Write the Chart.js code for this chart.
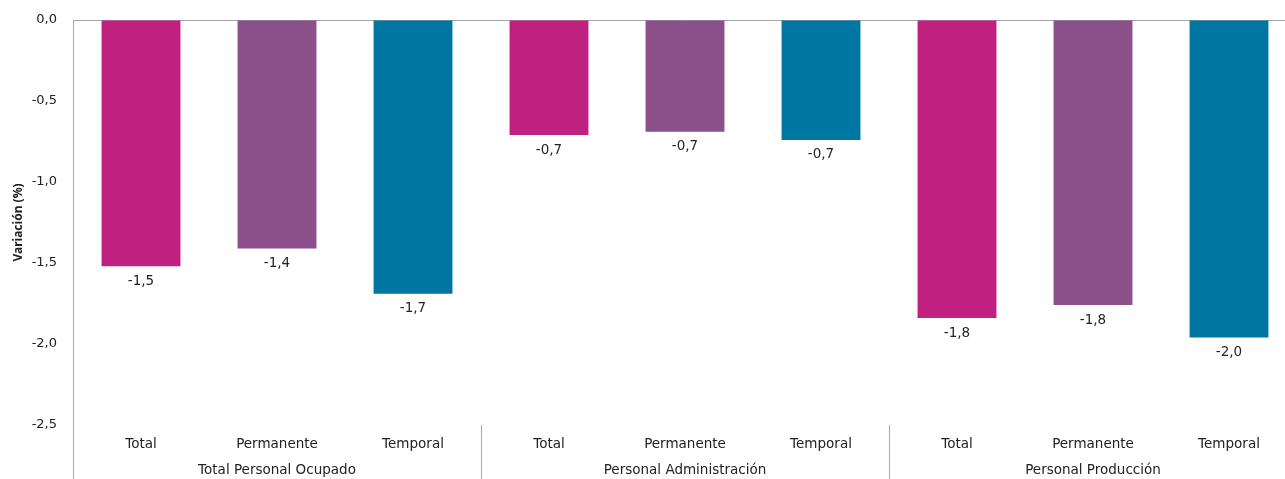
<!DOCTYPE html>
<html>
<head>
<meta charset="utf-8">
<script src="https://cdn.jsdelivr.net/npm/chart.js@4.4.1/dist/chart.umd.min.js"></script>
<style>
  html, body { margin: 0; padding: 0; background: #fff; overflow: hidden; }
  #wrap { width: 1297px; height: 479px; position: relative; }
</style>
</head>
<body>
<div id="wrap"><canvas id="grafico"></canvas></div>
<script>
// --- DATOS ---
const categorias = ['Total', 'Permanente', 'Temporal', 'Total', 'Permanente', 'Temporal', 'Total', 'Permanente', 'Temporal'];
const grupos = ['Total Personal Ocupado', 'Personal Administración', 'Personal Producción'];
const variacion = [-1.52, -1.41, -1.69, -0.71, -0.69, -0.74, -1.84, -1.76, -1.96];
const etiquetas = ['-1,5', '-1,4', '-1,7', '-0,7', '-0,7', '-0,7', '-1,8', '-1,8', '-2,0'];
const colores = ['#C0207F', '#8B4F8B', '#0077A3', '#C0207F', '#8B4F8B', '#0077A3', '#C0207F', '#8B4F8B', '#0077A3'];
const yTicks = [0, -0.5, -1, -1.5, -2, -2.5];

const FONT = "'DejaVu Sans', Verdana, sans-serif";
const GRIS = '#A6A6A6';

// Plugin: etiquetas de valor, grupos y separadores
const extras = {
    id: 'extras',
    afterDatasetsDraw(chart) {
        const ctx = chart.ctx;
        const meta = chart.getDatasetMeta(0);
        ctx.save();
        ctx.font = '13.5px ' + FONT;
        ctx.fillStyle = '#222';
        ctx.textAlign = 'center';
        ctx.textBaseline = 'middle';
        meta.data.forEach((bar, i) => {
            ctx.fillText(etiquetas[i], bar.x, bar.y + 15);
        });
        ctx.restore();
    },
    afterDraw(chart) {
        const ctx = chart.ctx;
        const x = chart.scales.x;
        const area = chart.chartArea;
        const bottom = chart.height;
        ctx.save();
        ctx.strokeStyle = GRIS;
        ctx.lineWidth = 1;
        // eje vertical hasta abajo
        ctx.beginPath();
        ctx.moveTo(Math.round(area.left) + 0.5, area.top);
        ctx.lineTo(Math.round(area.left) + 0.5, bottom);
        ctx.stroke();
        const ancho = (area.right - area.left) / categorias.length;
        for (let g = 1; g <= grupos.length; g++) {
            const sx = Math.round(area.left + ancho * 3 * g) + 0.5;
            ctx.beginPath();
            ctx.moveTo(sx, area.bottom);
            ctx.lineTo(sx, bottom);
            ctx.stroke();
        }
        ctx.font = '13.5px ' + FONT;
        ctx.fillStyle = '#222';
        ctx.textAlign = 'center';
        ctx.textBaseline = 'middle';
        grupos.forEach((g, i) => {
            const cx = x.getPixelForValue(i * 3 + 1);
            ctx.fillText(g, cx, 470);
        });
        ctx.restore();
    }
};

new Chart(document.getElementById('grafico'), {
    type: 'bar',
    data: {
        labels: categorias,
        datasets: [{
            data: variacion,
            backgroundColor: colores,
            borderWidth: 0,
            categoryPercentage: 1,
            barPercentage: 0.58
        }]
    },
    options: {
        responsive: true,
        maintainAspectRatio: false,
        animation: false,
        layout: { padding: { top: 20, right: 0, bottom: 0, left: 0 } },
        plugins: {
            legend: { display: false },
            tooltip: { enabled: false }
        },
        scales: {
            x: {
                grid: { display: false, drawTicks: false },
                border: { display: false },
                ticks: {
                    color: '#222',
                    font: { family: FONT, size: 13.5 },
                    padding: 11,
                    maxRotation: 0,
                    autoSkip: false
                },
                afterFit(scale) {
                    scale.height = 54;
                    scale.paddingLeft = 0;
                    scale.paddingRight = 0;
                }
            },
            y: {
                min: -2.5,
                max: 0,
                afterBuildTicks(scale) { scale.ticks = yTicks.map(v => ({ value: v })); },
                grid: {
                    drawTicks: false,
                    color: ctx => (ctx.tick && ctx.tick.value === 0) ? GRIS : 'rgba(0,0,0,0)'
                },
                border: { display: true, color: GRIS },
                ticks: {
                    color: '#222',
                    font: { family: FONT, size: 13 },
                    padding: 16,
                    callback: v => v.toFixed(1).replace('.', ',')
                },
                title: {
                    display: true,
                    text: 'Variación (%)',
                    color: '#222',
                    font: { family: "'Noto Sans', sans-serif", size: 12, weight: 'bold' },
                    padding: { top: 11, bottom: 0 }
                },
                afterFit(scale) {
                    scale.width = 73;
                    scale.paddingTop = 0;
                    scale.paddingBottom = 0;
                }
            }
        }
    },
    plugins: [extras]
});
</script>
</body>
</html>
